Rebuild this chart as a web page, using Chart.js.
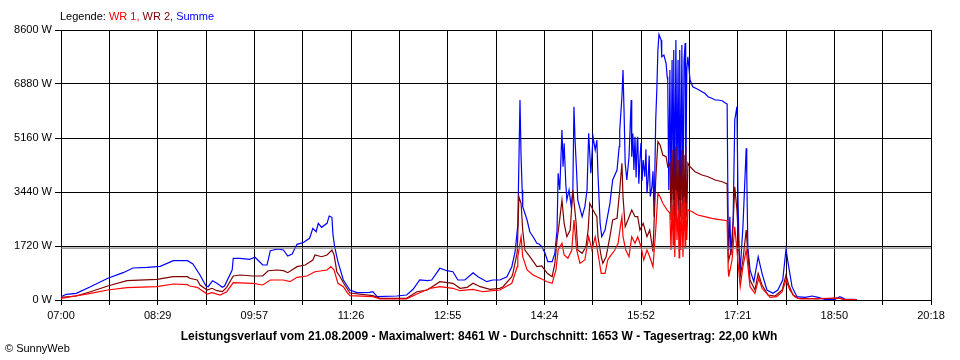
<!DOCTYPE html>
<html>
<head>
<meta charset="utf-8">
<script src="https://cdn.jsdelivr.net/npm/chart.js@4.4.1/dist/chart.umd.min.js"></script>
<style>
  html, body { margin: 0; padding: 0; background: #fff; }
  canvas { display: block; }
</style>
</head>
<body>
<canvas id="chart" width="960" height="360"></canvas>
<script>
// Zeitachse in Minuten seit Mitternacht, Leistung in W
const xTickLabels = ['07:00', '08:29', '09:57', '11:26', '12:55', '14:24', '15:52', '17:21', '18:50', '20:18'];
const yTickValues = [0, 1720, 3440, 5160, 6880, 8600];
const avgW = 1653;
const titleText = 'Leistungsverlauf vom 21.08.2009 - Maximalwert: 8461 W - Durchschnitt: 1653 W - Tagesertrag: 22,00 kWh';

const sumMin = [420,425,434,447,463,477,486,499,511,523,
  536,541,547.5,553,555,559,563,568,570,577,
  578,584,593,598,605,609,612,619,624,628,
  632,636.5,642,648,651,654,656,659,664,666,
  668.5,669.5,671,674,679,685,691.5,703,706,710,
  728,737,743,749,756,760,767.5,774,779.5,784,
  790.5,798,802.5,810.5,816,822.5,829,833.5,836.5,839,
  841,842,843,843.5,847.5,850,853,856.5,858.5,861,
  864,866.5,870.5,873,875,876,877.5,879.5,880.5,881.5,
  883,884,886,888,889.5,890.5,891.5,893,894,898,
  900.5,902.5,904,906,908,910,911.5,912.5,914.5,916,
  919,923.5,926,930,932,932.5,934.5,935.5,936.5,937.5,
  939,941,943,943.5,944.5,945.5,946.5,947.5,948.5,949,
  950,951,952,953,954,955.5,956.5,957.5,958.5,959.5,
  960.5,962,963,964,965.5,966.5,967.5,968.5,970.5,971,973,
  975,976,976.5,977.5,978.5,979.5,980.5,981.5,982,983,
  984,985,986,987,987.5,988.5,989.5,990.5,991.5,992.5,
  993,994,995,997,999.5,1004,1008,1010.5,1013.5,1017,
  1020,1022.5,1026.5,1029,1031,1032,1032.5,1033.5,1034.5,1036.5,
  1038,1040,1041,1042,1043,1045.5,1048.5,1049,1050,1052,
  1055.5,1059.5,1063,1067.5,1073,1077.5,1082,1085,1087,1090.5,
  1095,1102.5,1109,1114.5,1120.5,1130,1134.5,1139,1145.5,1150];
const sumW = [105,182,213,424,691,870,1019,1041,1073,1252,
  1252,1147,796,446,424,615,532,404,446,956,
  1328,1328,1296,1360,1115,1115,1570,1624,1593,1401,
  1465,1774,1825,1965,2284,2175,2443,2315,2443,2675,
  2634,2070,1698,1220,637,319,233,245,264,105,
  127,159,341,637,615,637,1010,933,901,637,
  637,870,742,583,637,637,742,1061,1529,2389,
  6370,4564,3504,2972,2548,2175,2016,1806,1784,1698,
  1487,1220,1220,1487,2230,4035,3504,5415,4246,4991,
  3717,3185,3504,2972,3504,6157,5096,4035,3185,2653,
  2972,3504,5309,4035,5201,4778,5096,4035,2443,2016,
  2230,3080,3822,4141,4883,5415,6475,7326,5956,4354,
  3822,4564,6370,4564,5300,4141,5200,3900,5096,5201,
  3700,4459,5000,3800,4459,3927,4800,3400,3822,4600,
  3300,3609,4100,2653,5733,6689,7963,8461,8281,7749,7803,
  7539,7112,7007,3504,7326,3185,7644,3822,7963,3185,
  8281,3504,7644,2867,7963,3185,8122,3185,7644,8185,
  3185,7326,7749,7007,6794,6711,6634,6583,6475,6424,
  6370,6370,6348,6284,6243,2070,1593,2653,1433,2548,
  5733,6157,3185,1593,956,2335,4832,4035,1698,956,
  583,1379,850,319,213,319,637,1615,1169,424,
  105,86,127,86,22,22,105,32,22,16];

const wr2Min = [420,434,447,463,480.5,508,523,536,538,545,
  547.5,554,558.5,563,568,572,578,584,596,605,
  610,618,624,628,636.5,644,651,653,659,664,
  668.5,670.5,673,676,679,685,706,712.5,737,746.5,
  756,767.5,779.5,786,792.5,798,804.5,813.5,822.5,825.5,
  833.5,834.5,838.5,840,842,843.5,845.5,850,856.5,861,
  866,870.5,873,875,877,879.5,881.5,884,887,889.5,
  892.5,894,898,901.5,903.5,905,908,911.5,912.5,915.5,
  917,920,923.5,926,930,932.5,934.5,935.5,937.5,940,
  943.5,946.5,949,951,954,957.5,960,963,965.5,967.5,
  969.5,972,975,976.5,978.5,979.5,980.5,981.5,982,983,
  984,985,986,987,987.5,988.5,989.5,990.5,991.5,992.5,
  993,994,995,997,1001.5,1008,1013.5,1020,1026.5,1031,
  1032,1032.5,1035.5,1038,1040,1043,1045.5,1048.5,1050,1052,
  1056.5,1059.5,1063,1068.5,1075,1081.5,1085,1087.5,1091.5,1096,
  1114.5,1132.5,1139,1150];
const wr2W = [86,127,264,446,615,659,742,742,691,637,
  478,319,373,296,264,404,764,796,764,764,
  933,956,933,870,1061,1115,1274,1433,1379,1433,
  1593,1433,901,742,551,223,137,54,54,264,
  319,583,532,373,404,532,424,341,373,424,
  742,850,1529,3290,3080,2230,1593,1379,1061,1083,
  850,742,1169,1911,2443,3185,2443,2016,2230,3504,
  2443,1593,1487,1698,2230,3080,2867,2653,2016,1379,
  1169,1379,2016,2548,2602,3504,4354,3290,2335,2548,
  2867,2653,2653,2230,2443,2016,2230,1538,3822,5042,
  4937,4618,4564,4246,4354,2548,4778,2708,4778,2389,
  4883,2867,4459,2230,4564,2653,4778,2548,4618,2230,
  4883,2653,4354,4246,4086,3981,3927,3822,3768,3695,
  1401,1274,1698,3609,2867,742,1274,2230,1487,637,
  319,850,478,159,127,319,796,478,159,54,
  32,64,16,10];

const wr1Min = [420,447,463,480.5,508,523,536,538,545,547.5,
  554,558.5,566,572,578,596,605,612,624,630,
  636.5,645.5,653,664,667.5,670.5,674,679,682.5,685,
  706,712.5,737,746.5,758.5,767.5,779.5,786,798,807,
  822.5,833.5,838.5,839,842,843.5,847.5,853,859.5,866,
  870.5,874,876,879.5,881.5,885,888.5,890.5,893,896,
  900.5,904,907,910,912.5,915.5,919,921.5,923.5,928,
  931,933.5,934.5,935.5,938,941,943.5,946.5,949,952,
  954.5,957.5,960,963,965.5,967.5,969.5,972,976,978.5,
  979.5,980.5,981.5,982,983,984,985,986,987,987.5,
  988.5,989.5,990.5,991.5,992.5,993,994,995,999,1004,
  1010.5,1017,1022.5,1031,1032,1032.5,1035.5,1038,1040,1043,
  1045.5,1048.5,1052,1056.5,1060,1063,1070.5,1076.5,1081.5,1085,
  1088.5,1093,1098,1132.5,1139,1150];
const wr1W = [54,213,319,392,424,510,487,446,404,341,
  191,233,159,264,551,532,478,637,637,583,
  723,764,901,956,1061,956,532,424,233,137,
  105,32,32,191,373,424,373,296,341,264,
  319,532,1061,1379,2016,1379,956,796,691,583,
  532,956,1593,1806,1433,1328,1593,2548,1593,1169,
  1274,2016,1593,2016,1487,850,850,1274,1379,1593,
  1806,2443,2653,2016,1593,1379,2016,1806,2016,1698,
  1274,1593,1379,1061,2230,3398,3290,3080,2867,2761,
  1593,3026,1752,3185,1370,3504,1911,2867,1338,3185,
  1593,3090,1370,3281,1656,3090,1911,2867,2812,2707,
  2653,2602,2570,2526,956,742,1274,2335,1593,424,
  1061,1593,424,213,691,373,86,105,264,637,
  319,105,32,64,16,10];

const RED = '#ff0000';
const DARKRED = '#800000';
const BLUE = '#0000ff';
const FONT = '"Liberation Sans", Arial, sans-serif';

const legendParts = [['Legende: ', '#000000'], ['WR 1, ', RED], ['WR 2, ', DARKRED], ['Summe', BLUE]];

const toPoints = (mins, vals) => mins.map((m, i) => ({ x: m, y: vals[i] }));

const xMin = 420, xMax = 1218;

const textPlugin = {
    id: 'sunnyText',
    afterDraw(chart) {
        const ctx = chart.ctx;
        ctx.save();
        ctx.textBaseline = 'middle';
        ctx.font = '11px ' + FONT;
        let x = 60;
        for (const [t, c] of legendParts) {
            ctx.fillStyle = c;
            ctx.fillText(t, x, 17);
            x += ctx.measureText(t).width;
        }
        ctx.fillStyle = '#000';
        ctx.font = 'bold 12px ' + FONT;
        ctx.textAlign = 'center';
        ctx.fillText(titleText, 479, 337);
        ctx.font = '11px ' + FONT;
        ctx.textAlign = 'left';
        ctx.fillText('\u00A9 SunnyWeb', 5, 349);
        ctx.restore();
    },
};

const line = (label, color, data) => ({
    label,
    data,
    borderColor: color,
    borderWidth: 1.2,
    pointRadius: 0,
    tension: 0,
    fill: false,
});

new Chart(document.getElementById('chart'), {
    type: 'line',
    data: {
        datasets: [
            line('Durchschnitt', '#808080', [{ x: xMin, y: avgW }, { x: xMax, y: avgW }]),
            line('WR 1', RED, toPoints(wr1Min, wr1W)),
            line('WR 2', DARKRED, toPoints(wr2Min, wr2W)),
            line('Summe', BLUE, toPoints(sumMin, sumW)),
        ],
    },
    options: {
        responsive: false,
        animation: false,
        layout: { padding: { top: 30, right: 29, bottom: 0, left: 0 } },
        plugins: {
            legend: { display: false },
            tooltip: { enabled: false },
        },
        scales: {
            x: {
                type: 'linear',
                min: xMin,
                max: xMax,
                afterBuildTicks: (axis) => {
                    axis.ticks = Array.from({ length: 19 }, (_, i) => ({ value: xMin + i * (xMax - xMin) / 18 }));
                },
                afterFit: (s) => { s.height = 60; },
                ticks: {
                    autoSkip: false,
                    maxRotation: 0,
                    padding: 4,
                    color: '#000',
                    font: { family: FONT, size: 11 },
                    callback: (v, i) => (i % 2 === 0 ? xTickLabels[i / 2] : ''),
                },
                grid: { color: '#000', lineWidth: 1, tickLength: 5 },
                border: { color: '#000' },
            },
            y: {
                min: 0,
                max: 8600,
                afterBuildTicks: (axis) => { axis.ticks = yTickValues.map((v) => ({ value: v })); },
                afterFit: (s) => { s.width = 61; },
                ticks: {
                    padding: 3,
                    color: '#000',
                    font: { family: FONT, size: 11 },
                    callback: (v) => v + ' W',
                },
                grid: { color: '#000', lineWidth: 1, tickLength: 6 },
                border: { color: '#000' },
            },
        },
    },
    plugins: [textPlugin],
});
</script>
</body>
</html>
